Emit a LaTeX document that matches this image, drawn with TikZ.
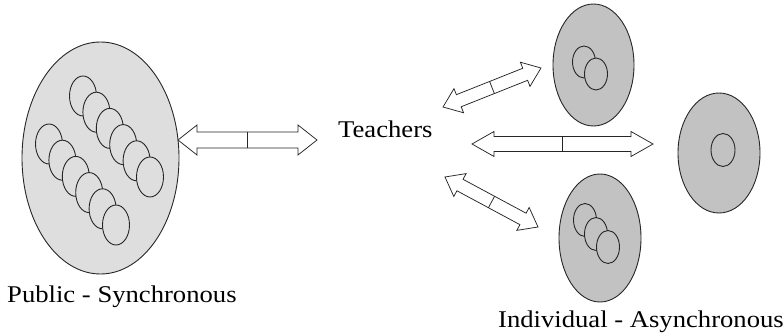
\documentclass[tikz,border=0pt]{standalone}
\usepackage{fontspec}
\setmainfont{Liberation Serif}
\newfontfamily\timesfont{Liberation Serif}
\usetikzlibrary{shapes.geometric,calc}
\tikzset{
  outline/.style={draw=black!85, line width=0.9pt},
  zone/.style={outline, ellipse, fill=black!24, inner sep=0pt},
  person/.style={ellipse, inner sep=0pt, minimum width=27pt, minimum height=40pt},
  smallperson/.style={ellipse, inner sep=0pt, minimum width=23pt, minimum height=32pt},
  arrowbox/.style={draw=black!85, line width=0.75pt, fill=white, line join=miter},
  txt/.style={inner sep=0pt, anchor=base west, font=\timesfont\fontsize{24}{28}\selectfont, xscale=1.11, transform shape}
}
\newcommand\DArrow[5]{%
  \draw[arrowbox] let \p1=(#1), \p2=(#2),
     \n1={atan2(\y2-\y1,\x2-\x1)}, \n2={veclen(\x2-\x1,\y2-\y1)} in
     [shift={(\p1)}, rotate=\n1]
     (0,0) -- (#5,#4) -- (#5,#3) -- (\n2-#5,#3) -- (\n2-#5,#4) -- (\n2,0)
     -- (\n2-#5,-#4) -- (\n2-#5,-#3) -- (#5,-#3) -- (#5,-#4) -- cycle
     (\n2/2,#3) -- (\n2/2,-#3);}
\begin{document}
\begin{tikzpicture}[x=1pt,y=-1pt]
\useasboundingbox (0,0) rectangle (784,336);
% public group
\node[zone, fill=black!13, minimum width=157pt, minimum height=232pt] (pub) at (100.5,158) {};
\foreach \i in {0,...,5} {
  \node[person, zone, fill=black!13] (u\i) at ({83+13.4*\i},{96+16.2*\i}) {};
}
\foreach \i in {0,...,5} {
  \node[person, zone, fill=black!13] (l\i) at ({49+13.4*\i},{144+16.2*\i}) {};
}
% individual groups
\node[zone, minimum width=81pt, minimum height=122pt] (top) at (593.5,65) {};
\node[smallperson, zone] (t1) at (584,62) {};
\node[smallperson, zone] (t2) at (596,74) {};
\node[zone, minimum width=82pt, minimum height=120pt] (right) at (719,153) {};
\node[smallperson, zone, minimum width=24pt, minimum height=33pt] (r1) at (723,150) {};
\node[zone, minimum width=82pt, minimum height=128pt] (bot) at (600,238) {};
\node[smallperson, zone, minimum height=33pt] (b1) at (585,220) {};
\node[smallperson, zone, minimum height=33pt] (b2) at (596,234) {};
\node[smallperson, zone, minimum height=33pt] (b3) at (608,247) {};
% texts
\node[txt] (teach) at (338,138) {Teachers};
\node[txt] (pubtxt) at (7,303) {Public - Synchronous};
\node[txt, anchor=base east] (indtxt) at (784,328) {Individual - Asynchronous};
% arrow end points
\coordinate (a1) at (178,140); \coordinate (a2) at (317,140);
\coordinate (b1s) at (443,107); \coordinate (b1e) at (541,68);
\coordinate (c1s) at (472,144); \coordinate (c1e) at (653,144);
\coordinate (d1s) at (445,177); \coordinate (d1e) at (538,227);
\DArrow{a1}{a2}{8}{15}{19}
\DArrow{b1s}{b1e}{6.5}{13}{17}
\DArrow{c1s}{c1e}{7.5}{12.5}{22}
\DArrow{d1s}{d1e}{6.5}{13}{17}
\end{tikzpicture}
\end{document}
